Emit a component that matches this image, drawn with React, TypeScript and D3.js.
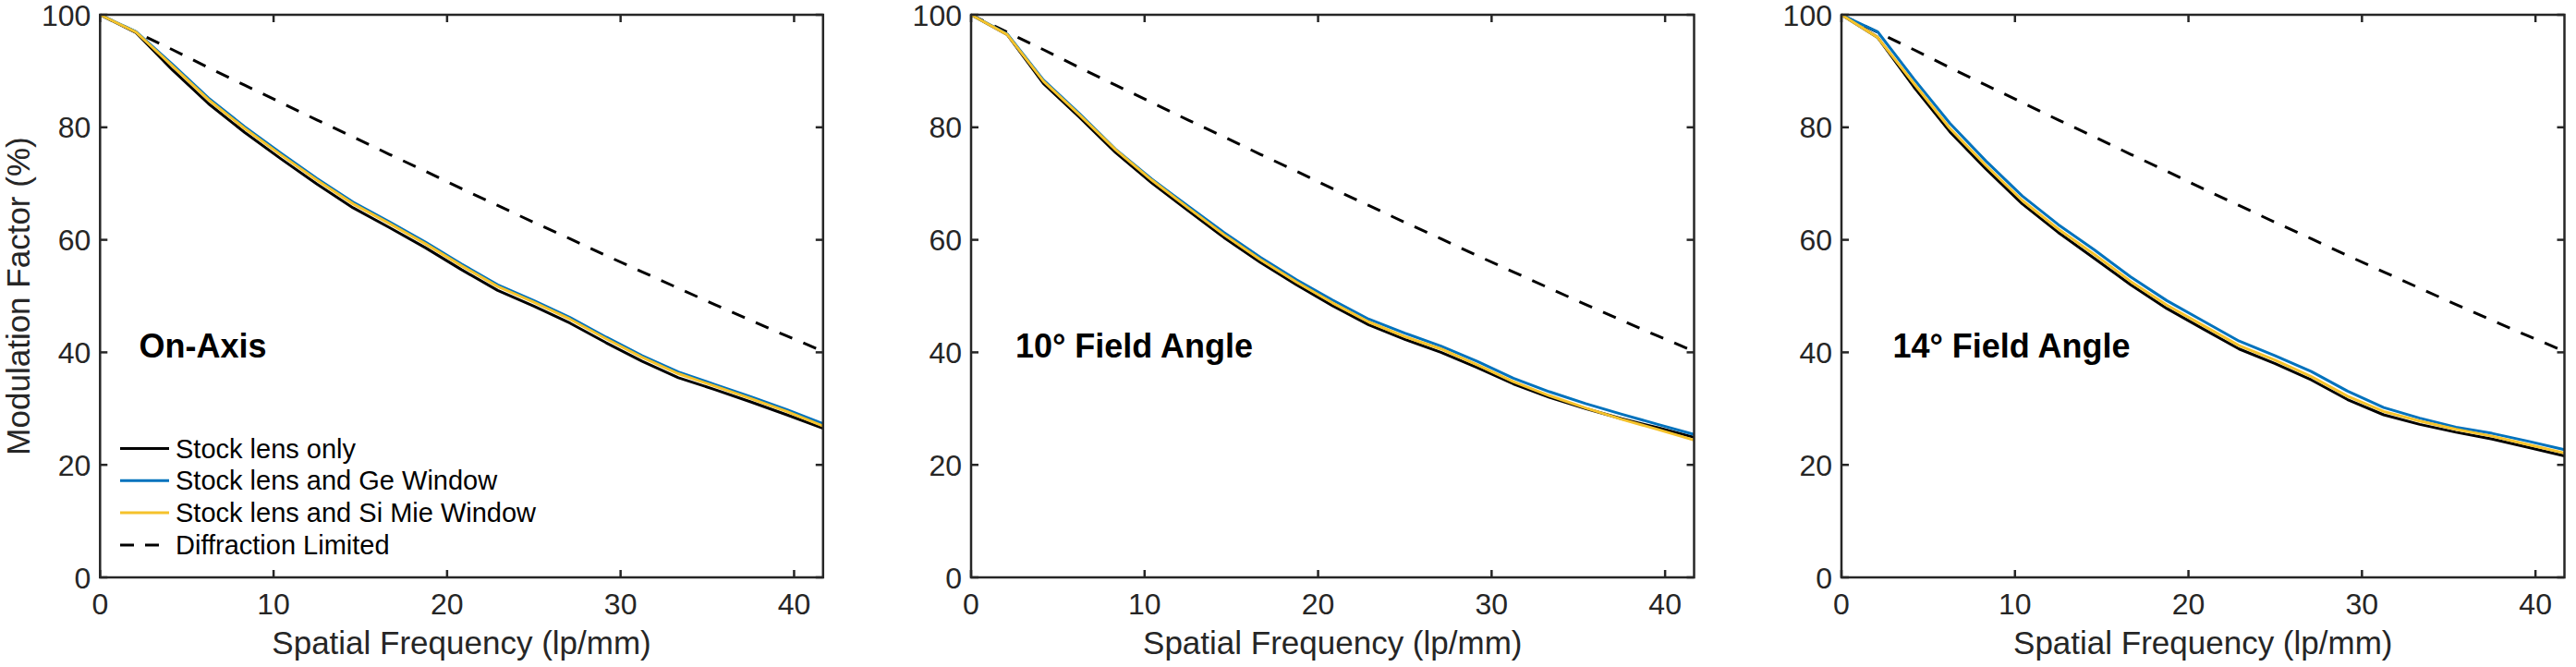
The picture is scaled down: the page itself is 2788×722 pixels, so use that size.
import { useRef, useEffect } from "react";
import * as d3 from "d3";

// spatial frequency samples (lp/mm)
const freq = [0, 2.08, 4.17, 6.25, 8.33, 10.42, 12.5, 14.58, 16.67, 18.75, 20.83, 22.92, 25, 27.08, 29.17, 31.25, 33.33, 35.42, 37.5, 39.58, 41.67];

const diffraction = [100, 96.9, 93.8, 90.6, 87.5, 84.4, 81.3, 78.3, 75.2, 72.2, 69.1, 66.1, 63.1, 60.2, 57.2, 54.3, 51.4, 48.5, 45.7, 42.9, 40.2];

const onAxisStock = [100, 96.8, 90.2, 84.2, 79.1, 74.4, 69.9, 65.7, 62.2, 58.6, 54.7, 51.0, 48.2, 45.2, 41.7, 38.4, 35.5, 33.4, 31.2, 28.9, 26.5];
const onAxisGe = [100, 97.0, 91.2, 85.2, 80.1, 75.4, 70.9, 66.7, 63.2, 59.6, 55.7, 52.0, 49.2, 46.2, 42.7, 39.4, 36.5, 34.3, 32.1, 29.8, 27.3];
const onAxisSi = [100, 96.9, 90.9, 84.9, 79.8, 75.1, 70.6, 66.4, 62.9, 59.3, 55.4, 51.7, 48.9, 45.9, 42.4, 39.1, 36.2, 34.0, 31.8, 29.5, 26.9];

const field10Stock = [100, 96.5, 87.8, 81.8, 75.5, 70.1, 65.2, 60.4, 56.0, 52.0, 48.3, 44.9, 42.3, 40.0, 37.3, 34.4, 32.0, 30.0, 28.2, 26.6, 24.9];
const field10Ge = [100, 96.6, 88.4, 82.4, 76.1, 70.8, 66.0, 61.3, 56.9, 52.9, 49.3, 45.9, 43.4, 41.1, 38.4, 35.4, 33.0, 30.9, 29.0, 27.2, 25.4];
const field10Si = [100, 96.5, 88.2, 82.2, 76.0, 70.6, 65.7, 60.9, 56.5, 52.5, 48.8, 45.4, 42.8, 40.6, 37.8, 34.8, 32.3, 30.1, 28.1, 26.3, 24.4];

const field14Stock = [100, 96.0, 87.2, 79.2, 72.6, 66.4, 61.3, 56.7, 52.0, 47.8, 44.2, 40.6, 38.0, 35.1, 31.6, 28.9, 27.2, 25.8, 24.6, 23.1, 21.6];
const field14Ge = [100, 97.0, 88.6, 80.7, 74.0, 67.8, 62.7, 58.2, 53.4, 49.2, 45.6, 42.0, 39.4, 36.6, 33.1, 30.2, 28.3, 26.7, 25.6, 24.2, 22.7];
const field14Si = [100, 96.0, 87.8, 79.8, 73.2, 67.0, 61.9, 57.4, 52.6, 48.4, 44.8, 41.2, 38.6, 35.7, 32.2, 29.5, 27.8, 26.3, 25.1, 23.6, 22.1];

const xTicks = [0, 10, 20, 30, 40];
const yTicks = [0, 20, 40, 60, 80, 100];

const seriesNames = ["Stock lens only", "Stock lens and Ge Window", "Stock lens and Si Mie Window", "Diffraction Limited"];
const seriesColors = ["#000000", "#0072BD", "#F5C22B", "#000000"];

const panelTitles = ["On-Axis", "10\u00B0 Field Angle", "14\u00B0 Field Angle"];
const panelTitleX = [2.25, 2.55, 2.95];
const panelSeries = [
  [onAxisStock, onAxisGe, onAxisSi],
  [field10Stock, field10Ge, field10Si],
  [field14Stock, field14Ge, field14Si],
];

const FONT = "'Liberation Sans', Arial, Helvetica, sans-serif";
const AXIS = "#262626";

export default function App() {
  const svgRef = useRef<SVGSVGElement>(null);

  useEffect(() => {
    if (!svgRef.current) return;
    const svg = d3.select(svgRef.current);
    svg.selectAll("*").remove();

    const width = 2788;
    const height = 722;
    svg.attr("viewBox", `0 0 ${width} ${height}`);

    const lefts = [108.3, 1051, 1993];
    const plotW = 782.5;
    const top = 16;
    const bottom = 625;
    const tick = 8;

    const y = d3.scaleLinear().domain([0, 100]).range([bottom, top]);

    panelSeries.forEach((series, p) => {
      const left = lefts[p];
      const x = d3.scaleLinear().domain([0, 41.67]).range([left, left + plotW]);
      const g = svg.append("g");

      // ticks (inward, all four sides)
      xTicks.forEach((t) => {
        g.append("line").attr("x1", x(t)).attr("x2", x(t)).attr("y1", bottom).attr("y2", bottom - tick)
          .attr("stroke", AXIS).attr("stroke-width", 2.5);
        g.append("line").attr("x1", x(t)).attr("x2", x(t)).attr("y1", top).attr("y2", top + tick)
          .attr("stroke", AXIS).attr("stroke-width", 2.5);
        g.append("text").attr("x", x(t)).attr("y", 665).attr("text-anchor", "middle")
          .attr("font-family", FONT).attr("font-size", 32).attr("fill", AXIS).text(t);
      });
      yTicks.forEach((t) => {
        g.append("line").attr("x1", left).attr("x2", left + tick).attr("y1", y(t)).attr("y2", y(t))
          .attr("stroke", AXIS).attr("stroke-width", 2.5);
        g.append("line").attr("x1", left + plotW).attr("x2", left + plotW - tick).attr("y1", y(t)).attr("y2", y(t))
          .attr("stroke", AXIS).attr("stroke-width", 2.5);
        g.append("text").attr("x", left - 10).attr("y", y(t)).attr("dy", "0.36em").attr("text-anchor", "end")
          .attr("font-family", FONT).attr("font-size", 32).attr("fill", AXIS).text(t);
      });

      const line = d3.line<number>()
        .x((_, i) => x(freq[i]))
        .y((d) => y(d));

      // diffraction limit
      g.append("path").datum(diffraction).attr("d", line).attr("fill", "none")
        .attr("stroke", "#000").attr("stroke-width", 3).attr("stroke-dasharray", "15 13");

      series.forEach((vals, s) => {
        g.append("path").datum(vals).attr("d", line).attr("fill", "none")
          .attr("stroke", seriesColors[s]).attr("stroke-width", 3)
          .attr("stroke-linejoin", "round");
      });

      // box
      g.append("rect").attr("x", left).attr("y", top).attr("width", plotW).attr("height", bottom - top)
        .attr("fill", "none").attr("stroke", AXIS).attr("stroke-width", 2.5);

      g.append("text").attr("x", x(panelTitleX[p])).attr("y", 387)
        .attr("font-family", FONT).attr("font-size", 36).attr("font-weight", "bold").attr("fill", "#000")
        .text(panelTitles[p]);

      g.append("text").attr("x", left + plotW / 2).attr("y", 708).attr("text-anchor", "middle")
        .attr("font-family", FONT).attr("font-size", 35).attr("fill", AXIS)
        .text("Spatial Frequency (lp/mm)");

      if (p === 0) {
        g.append("text").attr("transform", `translate(32,${(top + bottom) / 2}) rotate(-90)`)
          .attr("text-anchor", "middle").attr("font-family", FONT).attr("font-size", 35).attr("fill", AXIS)
          .text("Modulation Factor (%)");

        // legend
        seriesNames.forEach((name, i) => {
          const ly = 485.5 + i * 34.8;
          g.append("line").attr("x1", 130).attr("x2", 183).attr("y1", ly).attr("y2", ly)
            .attr("stroke", seriesColors[i]).attr("stroke-width", 3)
            .attr("stroke-dasharray", i === 3 ? "15 12" : null);
          g.append("text").attr("x", 190).attr("y", ly + 10)
            .attr("font-family", FONT).attr("font-size", 29).attr("fill", "#000").text(name);
        });
      }
    });
  }, []);

  return (
    <svg
      ref={svgRef}
      width={2788}
      height={722}
      style={{ position: "absolute", left: 0, top: 0, background: "#fff" }}
    />
  );
}
